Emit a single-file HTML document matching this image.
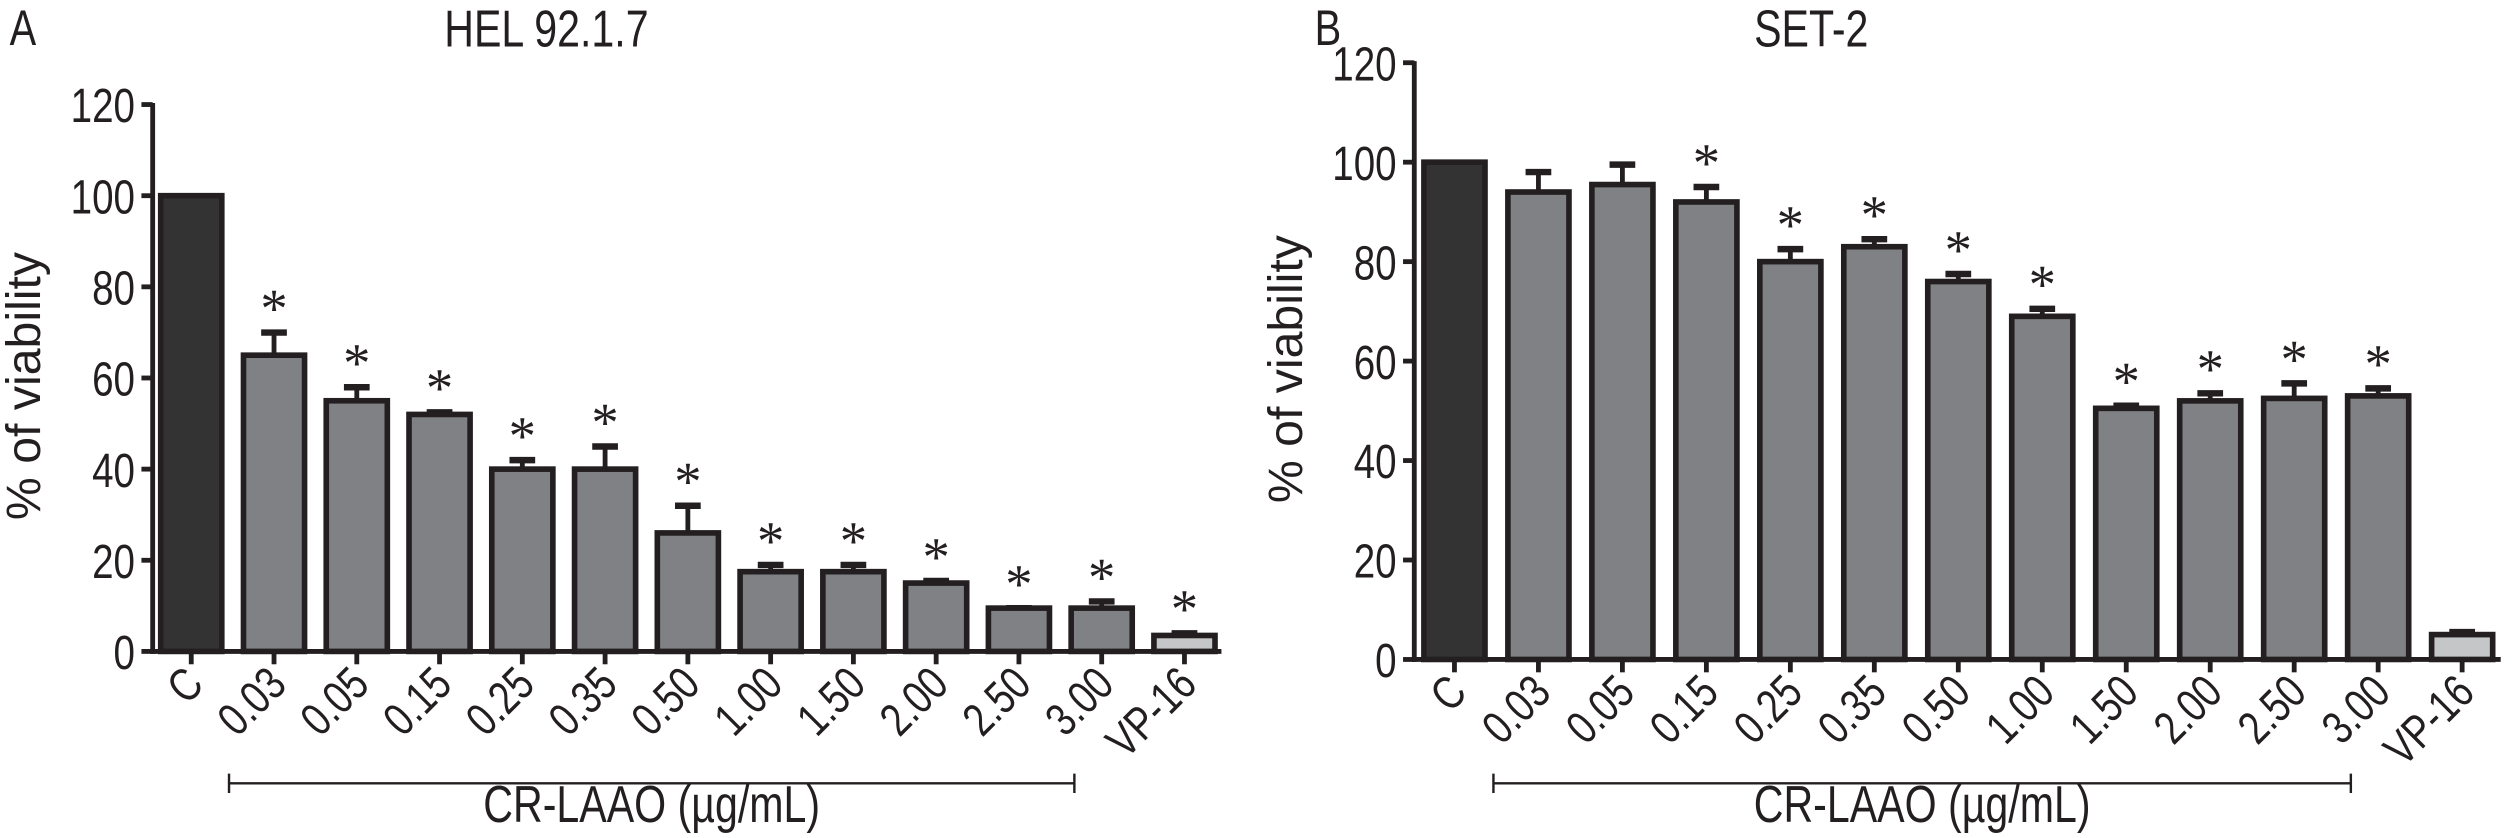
<!DOCTYPE html>
<html><head><meta charset="utf-8"><style>
html,body{margin:0;padding:0;background:#fff;}
svg{display:block;}
text{font-family:"Liberation Sans",sans-serif;fill:#231f20;}
</style></head><body>
<svg id="chart" width="2520" height="838" viewBox="0 0 1568 521" preserveAspectRatio="none" xmlns="http://www.w3.org/2000/svg"></svg>
<script>
const categories = ["C","0.03","0.05","0.15","0.25","0.35","0.50","1.00","1.50","2.00","2.50","3.00","VP-16"];
const yTicks = [0,20,40,60,80,100,120];
const helValues = [100,65,55,52,40,40,26,17.5,17.5,15,9.5,9.5,3.5];
const helErrTop = [100,70.5,58.5,53,42.5,45.5,32.5,19.5,19.5,16,10,11.5,4.5];
const helStars = [0,1,1,1,1,1,1,1,1,1,1,1,1];
const setValues = [100,94,95.5,92,80,83,76,69,50.5,52,52.5,53,5];
const setErrTop = [100,98.5,100,95.5,83,85,78,71,51.5,54,56,55,6];
const setStars = [0,0,0,1,1,1,1,1,1,1,1,1,0];

const svg = document.getElementById('chart');
const NS = 'http://www.w3.org/2000/svg';
const SX = 0.8;
function mk(tag, attrs, parent){const e=document.createElementNS(NS,tag);for(const k in attrs)e.setAttribute(k,attrs[k]);(parent||svg).appendChild(e);return e;}
function ntext(parent, x, y, size, anchor, str, extra){
  const e = mk('text',{x:0,y:0,'font-size':size,'text-anchor':anchor,transform:`translate(${x},${y}) ${extra||''} scale(${SX},1)`},parent);
  e.textContent = str;
  return e;
}

function panel(cfg){
  const g = mk('g',{});
  
  
  const y = v => cfg.y0 - (v/120)*(cfg.y0-cfg.y120);
  const x = i => cfg.xC + i*cfg.step;
  const bw = 38;
  let t = ntext(g, cfg.letterX, 28, 31, 'start', cfg.letter);
   
  t = ntext(g, cfg.titleX, 29, 32, 'middle', cfg.title);
   
  let a = mk('line',{x1:cfg.axisX,y1:y(120)-1,x2:cfg.axisX,y2:cfg.y0+1.5,stroke:'#231f20','stroke-width':3},g);
   
  yTicks.forEach(v=>{
    mk('line',{x1:cfg.axisX-7,y1:y(v),x2:cfg.axisX,y2:y(v),stroke:'#231f20','stroke-width':3},g);
    const tt = ntext(g, cfg.axisX-11, y(v)+11, 30, 'end', String(v));
     
  });
  const yl = mk('text',{x:0,y:0,'font-size':30,'text-anchor':'middle',transform:`translate(${cfg.axisX-70},${(y(0)+y(120))/2+5}) rotate(-90)`},g);
  yl.textContent='% of viability';
   
  a = mk('line',{x1:cfg.axisX-1.5,y1:cfg.y0,x2:cfg.xEnd,y2:cfg.y0,stroke:'#231f20','stroke-width':3},g);
   
  categories.forEach((c,i)=>{
    const v = cfg.values[i];
    const fill = i===0?'#333333':(i===12?'#c4c6c8':'#808184');
    const et = y(cfg.err[i]);
    if (cfg.err[i] > v) {
      const el = mk('line',{x1:x(i),y1:et,x2:x(i),y2:y(v),stroke:'#231f20','stroke-width':3},g);
       
      const cap = mk('line',{x1:x(i)-8,y1:et+1.5,x2:x(i)+8,y2:et+1.5,stroke:'#231f20','stroke-width':4},g);
       
    }
    const r = mk('rect',{x:x(i)-bw/2,y:y(v),width:bw,height:cfg.y0-y(v),fill:fill,stroke:'#231f20','stroke-width':3.5},g);
    
    
    if (cfg.stars[i]) {
      const s = mk('text',{x:x(i),y:Math.min(et,y(v))-2,'font-size':34,'text-anchor':'middle',style:'font-family:"Liberation Serif",serif'},g);
      s.textContent='*';
       
    }
    mk('line',{x1:x(i),y1:cfg.y0,x2:x(i),y2:cfg.y0+8,stroke:'#231f20','stroke-width':3},g);
    const lt = mk('text',{x:0,y:0,'font-size':29,'text-anchor':'end',transform:`translate(${x(i)+9},${cfg.y0+22}) rotate(-45) scale(${SX},1)`},g);
    lt.textContent=c;
     
  });
  const bx1 = x(1)-28, bx2 = x(11)-17, by = 487;
  const br = mk('path',{d:`M${bx1},${by-6}V${by+6}M${bx1},${by}H${bx2}M${bx2},${by-6}V${by+6}`,stroke:'#231f20','stroke-width':1.5,fill:'none'},g);
   
  const bl = ntext(g, (bx1+bx2)/2, 511, 32, 'middle', 'CR-LAAO (µg/mL)');
   
}

panel({name:'panel-a-hel',letter:'A',letterX:6,title:'HEL 92.1.7',titleX:340,axisX:95,y0:405,y120:65,xC:119,step:51.5,xEnd:760,values:helValues,err:helErrTop,stars:helStars});
panel({name:'panel-b-set2',letter:'B',letterX:818,title:'SET-2',titleX:1127,axisX:880,y0:410,y120:39,xC:905,step:52.25,xEnd:1556,values:setValues,err:setErrTop,stars:setStars});
</script>
</body></html>
